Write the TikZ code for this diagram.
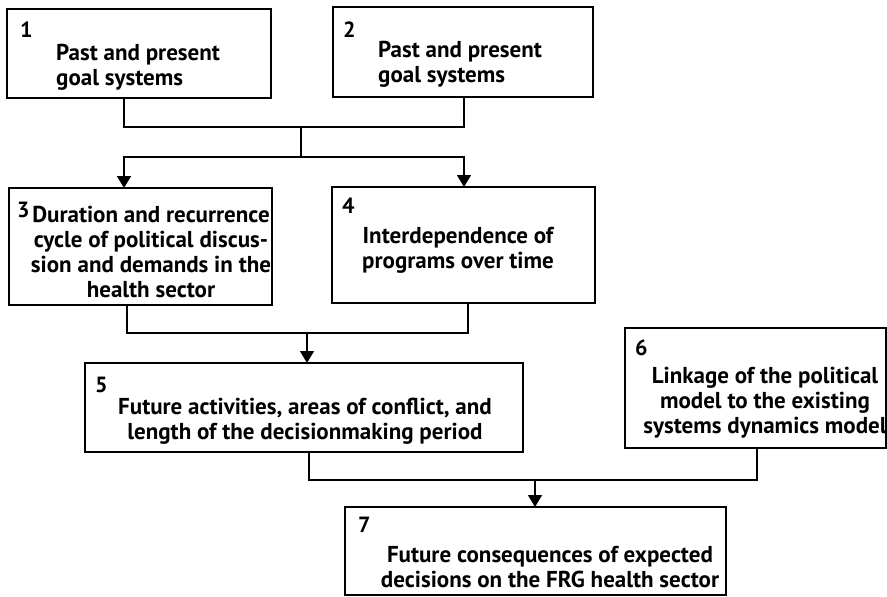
\documentclass[tikz,border=0pt]{standalone}
\usepackage{fontspec}
\setmainfont{PT Sans}
\usepackage{tikz}
\usetikzlibrary{arrows.meta,positioning,calc}
\tikzset{
  box/.style={draw, line width=2.8pt, outer sep=0pt, inner sep=0pt},
  boxtext/.style={font=\bfseries\fontsize{23}{25}\selectfont, inner sep=0pt},
  num/.style={font=\bfseries\fontsize{22}{22}\selectfont, anchor=north west, inner sep=0pt},
  link/.style={line width=1.3pt}
}

\begin{document}
\begin{tikzpicture}[x=1pt, y=-1pt, >={Triangle[width=14pt,length=12pt]}]
\useasboundingbox (0,0) rectangle (887,597);
\node[box, minimum width=264pt, minimum height=89pt] (b1) at (139,53.5) {};
\node[box, minimum width=260pt, minimum height=90pt] (b2) at (463,52) {};
\node[box, minimum width=263pt, minimum height=117pt] (b3) at (140.5,246.5) {};
\node[box, minimum width=263pt, minimum height=116pt] (b4) at (463.5,245) {};
\node[box, minimum width=438pt, minimum height=89pt] (b5) at (304,407.5) {};
\node[box, minimum width=261pt, minimum height=120pt] (b6) at (755.5,388) {};
\node[box, minimum width=381pt, minimum height=88pt] (b7) at (535.5,551) {};
\node[num] (n1) at ([shift={(13,13)}]b1.north west) {1};
\node[num] (n2) at ([shift={(10,15)}]b2.north west) {2};
\node[num] (n3) at ([shift={(8,14)}]b3.north west) {3};
\node[num] (n4) at ([shift={(10,11)}]b4.north west) {4};
\node[num] (n5) at ([shift={(10,14)}]b5.north west) {5};
\node[num] (n6) at ([shift={(10,12)}]b6.north west) {6};
\node[num] (n7) at ([shift={(13,10)}]b7.north west) {7};
\node[boxtext, align=left, anchor=west] (t1) at (56,67) {Past and present\\goal systems};
\node[boxtext, align=left, anchor=west] (t2) at (378,64) {Past and present\\goal systems};
\node[boxtext, align=center] (t3) at (151,252) {Duration and recurrence\\cycle of political discus-\\sion and demands in the\\health sector};
\node[boxtext, align=center] (t4) at (458,250) {Interdependence of\\programs over time};
\node[boxtext, align=center] (t5) at (305,421) {Future activities, areas of conflict, and\\length of the decisionmaking period};
\node[boxtext, align=center] (t6) at (765,403) {Linkage of the political\\model to the existing\\systems dynamics model};
\node[boxtext, align=center] (t7) at (550,567) {Future consequences of expected\\decisions on the FRG health sector};
\coordinate (j1) at (301,127);
\coordinate (j2) at (301,157);
\coordinate (j3) at (307,333);
\coordinate (j4) at (535,480);
\draw[link] ([xshift=-15pt]b1.south) |- (j1) -| ([xshift=1pt]b2.south);
\draw[link] (j1) -- (j2);
\draw[link, ->] (j2) -| ([xshift=-16.5pt]b3.north);
\draw[link, ->] (j2) -| ([xshift=0.5pt]b4.north);
\draw[link] ([xshift=-13.5pt]b3.south) |- (j3) -| ([xshift=4.5pt]b4.south);
\draw[link, ->] (j3) -- (b5.north -| j3);
\draw[link] ([xshift=5pt]b5.south) |- (j4) -| ([xshift=1.5pt]b6.south);
\draw[link, ->] (j4) -- (b7.north -| j4);
\end{tikzpicture}
\end{document}
